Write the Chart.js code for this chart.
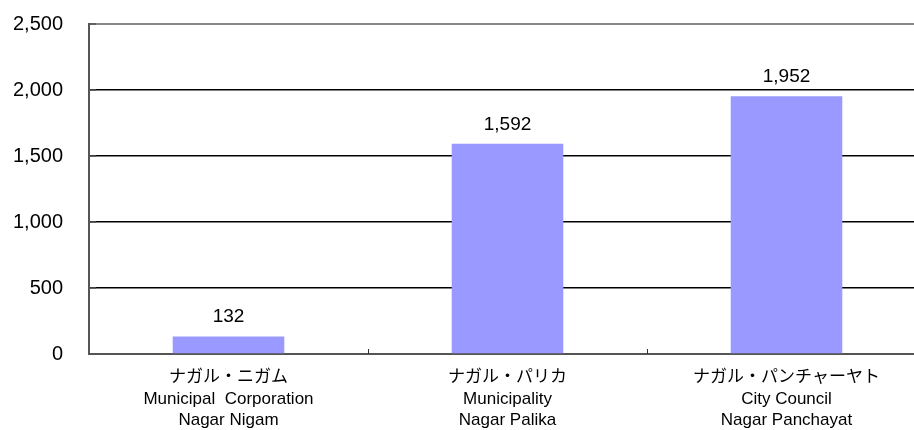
<!DOCTYPE html>
<html><head><meta charset="utf-8">
<script src="https://cdn.jsdelivr.net/npm/chart.js@4.4.1/dist/chart.umd.min.js"></script>
<style>html,body{margin:0;padding:0;background:#fff;overflow:hidden;width:914px;height:430px}</style>
</head><body>
<canvas id="c" width="926" height="430" style="display:block;width:926px;height:430px"></canvas>
<script>
const categoriesJa = ["ナガル・ニガム", "ナガル・パリカ", "ナガル・パンチャーヤト"];
const categoriesEn = ["Municipal  Corporation", "Municipality", "City Council"];
const categoriesHi = ["Nagar Nigam", "Nagar Palika", "Nagar Panchayat"];
const values = [132, 1592, 1952];
const yTicks = [0, 500, 1000, 1500, 2000, 2500];

const labels = categoriesJa.map((j, i) => [j, categoriesEn[i], categoriesHi[i]]);
const fam = '"Liberation Sans", Arial, "Noto Sans CJK JP", sans-serif';
const fmt = v => v.toLocaleString('en-US');

const valueLabels = {
  id: 'valueLabels',
  afterDatasetsDraw(chart) {
    const ctx = chart.ctx;
    const meta = chart.getDatasetMeta(0);
    ctx.save();
    ctx.font = '19px ' + fam;
    ctx.fillStyle = '#000';
    ctx.textAlign = 'center';
    ctx.textBaseline = 'bottom';
    meta.data.forEach((bar, i) => {
      ctx.fillText(fmt(values[i]), bar.x, bar.y - 10);
    });
    ctx.restore();
  }
};
const innerTicks = {
  id: 'innerTicks',
  afterDraw(chart) {
    const ctx = chart.ctx, x = chart.scales.x, y = chart.scales.y;
    ctx.save();
    ctx.strokeStyle = '#333';
    ctx.lineWidth = 1;
    const base = y.getPixelForValue(0);
    for (let i = 1; i < values.length; i++) {
      const px = Math.round((x.getPixelForValue(i - 1) + x.getPixelForValue(i)) / 2) + 0.5;
      ctx.beginPath(); ctx.moveTo(px, base); ctx.lineTo(px, base - 5); ctx.stroke();
    }
    ctx.strokeStyle = '#555';
    ctx.lineWidth = 1.5;
    yTicks.forEach(t => {
      const py = y.getPixelForValue(t);
      ctx.beginPath(); ctx.moveTo(x.left, py); ctx.lineTo(x.left + 7, py); ctx.stroke();
    });
    ctx.restore();
  }
};

new Chart(document.getElementById('c'), {
  type: 'bar',
  data: {
    labels: labels,
    datasets: [{
      data: values,
      backgroundColor: '#9999FF',
      borderWidth: 0,
      barPercentage: 0.4,
      categoryPercentage: 1.0
    }]
  },
  options: {
    responsive: false,
    animation: false,
    devicePixelRatio: 1,
    layout: { autoPadding: false, padding: { top: 24, right: 0, left: 0, bottom: 0 } },
    plugins: { legend: { display: false }, tooltip: { enabled: false } },
    scales: {
      x: {
        grid: { display: false, drawTicks: false },
        border: { display: true, color: '#555', width: 2 },
        ticks: {
          color: '#000',
          font: { family: fam, size: 17, lineHeight: 1.25 },
          padding: 13,
          maxRotation: 0,
          autoSkip: false
        },
        afterFit(s) { s.height = 76; s.paddingLeft = 0; s.paddingRight = 0; s.paddingTop = 0; s.paddingBottom = 0; }
      },
      y: {
        min: 0, max: 2500,
        afterBuildTicks(s) { s.ticks = yTicks.map(v => ({ value: v })); },
        grid: {
          drawTicks: false,
          color: c => c.tick && c.tick.value === 2500 ? '#888' : (c.tick && c.tick.value === 0 ? '#555' : '#000'),
          lineWidth: c => c.tick && c.tick.value === 2500 ? 2 : 1.6
        },
        border: { display: true, color: '#555', width: 2 },
        ticks: {
          color: '#000',
          font: { family: fam, size: 20 },
          padding: 26,
          callback: v => fmt(v)
        },
        afterFit(s) { s.width = 89; s.paddingTop = 0; s.paddingBottom = 0; s.paddingLeft = 0; s.paddingRight = 0; }
      }
    }
  },
  plugins: [valueLabels, innerTicks]
});
</script>
</body></html>
